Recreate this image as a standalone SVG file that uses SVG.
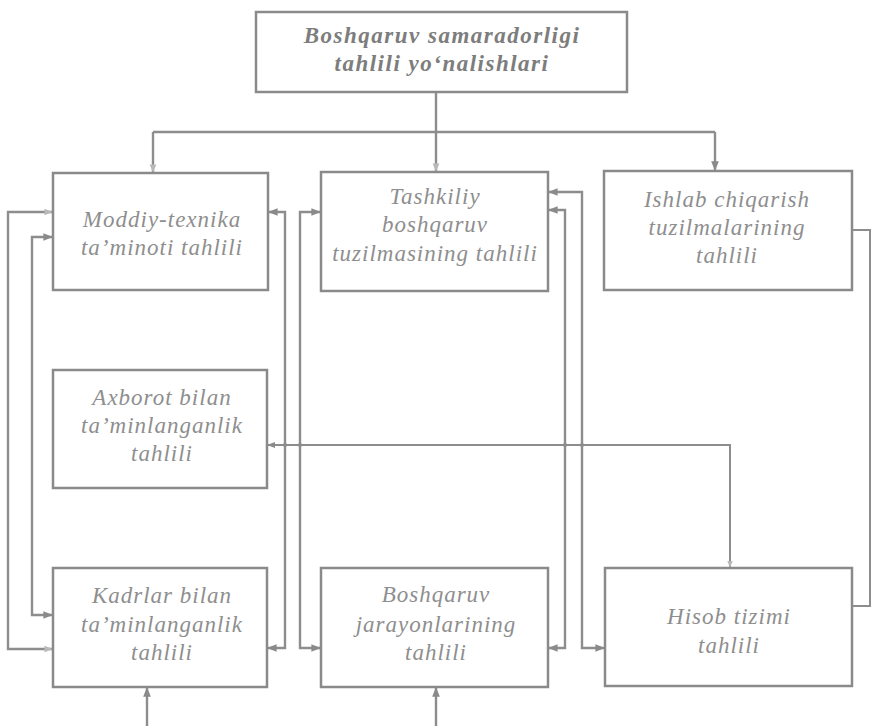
<svg xmlns="http://www.w3.org/2000/svg" width="873" height="726" viewBox="0 0 873 726">
  <style>
    .box { fill: #ffffff; stroke: #8a8a8a; stroke-width: 2.5; }
    .lbl { font-family: "Liberation Serif", "Times New Roman", serif; font-style: italic; font-size: 23px; fill: #8e8e8e; text-anchor: middle; letter-spacing: 1px; }
    .ttl { font-family: "Liberation Serif", "Times New Roman", serif; font-style: italic; font-weight: bold; font-size: 23px; fill: #7d7d7d; text-anchor: middle; letter-spacing: 1.5px; }
    .wire { fill: none; stroke: #8d8d8d; stroke-width: 2.4; }
    .thin { fill: none; stroke: #8d8d8d; stroke-width: 2; }
  </style>
  <defs>
    <marker id="arr" viewBox="0 0 10 10" refX="9" refY="5" markerWidth="4" markerHeight="4" orient="auto-start-reverse" markerUnits="strokeWidth">
      <path d="M0,1 L10,5 L0,9 Z" fill="#8a8a8a"/>
    </marker>
    <marker id="arrFaint" viewBox="0 0 10 10" refX="9" refY="5" markerWidth="3.5" markerHeight="3.5" orient="auto-start-reverse" markerUnits="strokeWidth">
      <path d="M0,1 L10,5 L0,9 Z" fill="#b9b9b9"/>
    </marker>
  </defs>

  <rect width="873" height="726" fill="#ffffff"/>

  <!-- connectors -->
  <g id="connectors">
    <!-- tree from the title box -->
    <path class="wire" d="M436,92 V132"/>
    <path class="wire" d="M153,132 H715"/>
    <path class="wire" d="M153,132 V172" marker-end="url(#arrFaint)"/>
    <path class="wire" d="M436,132 V171" marker-end="url(#arrFaint)"/>
    <path class="wire" d="M715,132 V170" marker-end="url(#arr)"/>

    <!-- left loops: Moddiy-texnika <-> Kadrlar -->
    <path class="wire" d="M52,212 H8 V649 H52" marker-start="url(#arrFaint)" marker-end="url(#arrFaint)"/>
    <path class="wire" d="M52,237 H32 V615 H52" marker-start="url(#arr)" marker-end="url(#arr)"/>

    <!-- Moddiy-texnika right <-> Kadrlar right -->
    <path class="wire" d="M269,212 H285 V648 H268" marker-start="url(#arr)" marker-end="url(#arr)"/>
    <!-- Tashkiliy left <-> Boshqaruv jarayonlari left -->
    <path class="wire" d="M320,212 H300 V648 H320" marker-start="url(#arr)" marker-end="url(#arr)"/>

    <!-- Tashkiliy right <-> Boshqaruv jarayonlari right -->
    <path class="wire" d="M549,210 H565 V648 H549" marker-start="url(#arr)" marker-end="url(#arr)"/>
    <!-- Tashkiliy right <-> Hisob tizimi left -->
    <path class="wire" d="M549,192 H582 V648 H604" marker-start="url(#arr)" marker-end="url(#arr)"/>

    <!-- Axborot <-> Hisob tizimi -->
    <path class="thin" d="M268,445 H730 V567" marker-start="url(#arr)" marker-end="url(#arrFaint)"/>
    <circle cx="285" cy="445" r="2" fill="#8d8d8d"/>
    <circle cx="300" cy="445" r="2" fill="#8d8d8d"/>
    <circle cx="565" cy="445" r="2" fill="#8d8d8d"/>
    <circle cx="582" cy="445" r="2" fill="#8d8d8d"/>

    <!-- Ishlab chiqarish -> Hisob tizimi, right side -->
    <path class="thin" d="M852,230 H870 V606 H852"/>

    <!-- inputs from below -->
    <path class="wire" d="M147,726 V688" marker-end="url(#arr)"/>
    <path class="wire" d="M436,726 V688" marker-end="url(#arr)"/>
  </g>

  <!-- title -->
  <g id="title">
    <rect class="box" x="256" y="12" width="371" height="80"/>
    <text class="ttl" x="442" y="43">Boshqaruv  samaradorligi</text>
    <text class="ttl" x="442" y="71">tahlili  yo‘nalishlari</text>
  </g>

  <g id="moddiy">
    <rect class="box" x="53" y="173" width="215" height="117"/>
    <text class="lbl" x="162" y="227">Moddiy-texnika</text>
    <text class="lbl" x="162" y="255">ta’minoti tahlili</text>
  </g>

  <g id="tashkiliy">
    <rect class="box" x="321" y="172" width="227" height="119"/>
    <text class="lbl" x="435" y="204">Tashkiliy</text>
    <text class="lbl" x="435" y="232">boshqaruv</text>
    <text class="lbl" x="435" y="261">tuzilmasining  tahlili</text>
  </g>

  <g id="ishlab">
    <rect class="box" x="604" y="171" width="248" height="119"/>
    <text class="lbl" x="727" y="207">Ishlab  chiqarish</text>
    <text class="lbl" x="727" y="235">tuzilmalarining</text>
    <text class="lbl" x="727" y="263">tahlili</text>
  </g>

  <g id="axborot">
    <rect class="box" x="53" y="370" width="214" height="118"/>
    <text class="lbl" x="162" y="405">Axborot bilan</text>
    <text class="lbl" x="162" y="433">ta’minlanganlik</text>
    <text class="lbl" x="162" y="461">tahlili</text>
  </g>

  <g id="kadrlar">
    <rect class="box" x="53" y="568" width="214" height="119"/>
    <text class="lbl" x="162" y="603">Kadrlar  bilan</text>
    <text class="lbl" x="162" y="632">ta’minlanganlik</text>
    <text class="lbl" x="162" y="660">tahlili</text>
  </g>

  <g id="jarayon">
    <rect class="box" x="321" y="568" width="227" height="119"/>
    <text class="lbl" x="436" y="602">Boshqaruv</text>
    <text class="lbl" x="436" y="632">jarayonlarining</text>
    <text class="lbl" x="436" y="660">tahlili</text>
  </g>

  <g id="hisob">
    <rect class="box" x="605" y="568" width="247" height="118"/>
    <text class="lbl" x="729" y="624">Hisob tizimi</text>
    <text class="lbl" x="729" y="653">tahlili</text>
  </g>
</svg>
